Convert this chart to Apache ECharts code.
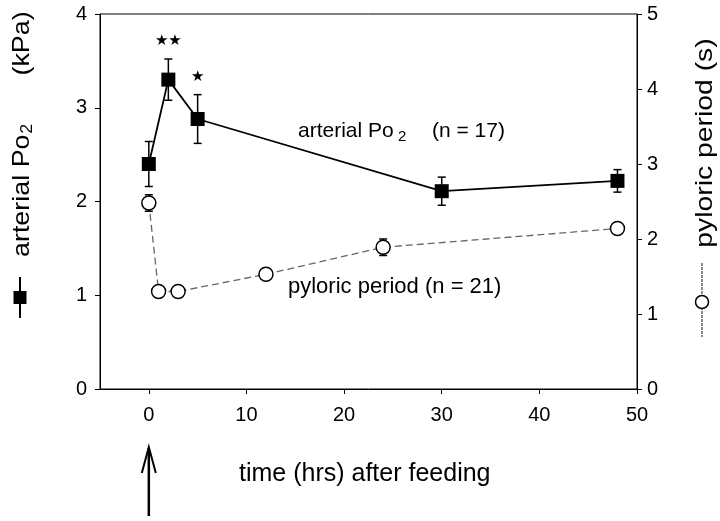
<!DOCTYPE html>
<html><head><meta charset="utf-8">
<script src="https://cdn.jsdelivr.net/npm/echarts@6/dist/echarts.min.js"></script>
<style>html,body{margin:0;padding:0;background:#fff}#c{width:720px;height:521px}</style>
</head><body><div id="c"></div>
<script>
const FONT = '"Liberation Sans", Arial, Helvetica, sans-serif';

// arterial PO2 (kPa), left axis
const po2Time = [0, 2, 5, 30, 48];
const po2Mean = [2.40, 3.30, 2.88, 2.11, 2.22];
const po2Err  = [0.24, 0.22, 0.26, 0.15, 0.12];
const po2Stars = ['', '★★', '★', '', ''];

// pyloric period (s), right axis
const pyloricTime = [0, 1, 3, 12, 24, 48];
const pyloricMean = [2.48, 1.30, 1.30, 1.53, 1.89, 2.14];
const pyloricErr  = [0.11, 0, 0, 0, 0.11, 0];

// axis ticks
const xTicks = [0, 10, 20, 30, 40, 50];
const leftTicks = [0, 1, 2, 3, 4];
const rightTicks = [0, 1, 2, 3, 4, 5];

const chart = echarts.init(document.getElementById('c'), null, {renderer: 'canvas'});

function errRender(stars, capHalf) {
  return function (params, api) {
    const x = api.value(0), y = api.value(1), e = api.value(2);
    const idx = params.dataIndex;
    const children = [];
    const top = api.coord([x, y + e]);
    const bot = api.coord([x, y - e]);
    const st = {stroke: '#000', lineWidth: 1.5};
    if (e > 0) {
      children.push({type: 'line', shape: {x1: top[0], y1: top[1], x2: bot[0], y2: bot[1]}, style: st});
      children.push({type: 'line', shape: {x1: top[0] - capHalf, y1: top[1], x2: top[0] + capHalf, y2: top[1]}, style: st});
      children.push({type: 'line', shape: {x1: bot[0] - capHalf, y1: bot[1], x2: bot[0] + capHalf, y2: bot[1]}, style: st});
    }
    if (stars && stars[idx]) {
      children.push({type: 'text', x: top[0], y: top[1] - 18,
        style: {text: stars[idx], fill: '#000', font: '15px "DejaVu Sans", sans-serif', align: 'center', verticalAlign: 'middle'}});
    }
    return {type: 'group', children};
  };
}

const axisLabelStyle = {color: '#000', fontSize: 20, fontFamily: FONT};

const option = {
  animation: false,
  backgroundColor: '#fff',
  grid: {left: 100, right: 83, top: 14, bottom: 132, show: true, borderColor: '#000', borderWidth: 1, backgroundColor: 'transparent'},
  xAxis: {
    type: 'value', min: -5, max: 50,
    axisLine: {show: true, onZero: false, lineStyle: {color: '#000', width: 1}},
    axisTick: {show: true, inside: false, length: 5, customValues: xTicks, lineStyle: {color: '#000'}},
    axisLabel: Object.assign({margin: 16, customValues: xTicks}, axisLabelStyle),
    splitLine: {show: false}
  },
  yAxis: [{
    type: 'value', min: 0, max: 4, interval: 1, position: 'left',
    axisLine: {show: true, onZero: false, lineStyle: {color: '#000', width: 1}},
    axisTick: {show: true, inside: false, length: 5, lineStyle: {color: '#000'}},
    axisLabel: Object.assign({margin: 13, formatter: v => leftTicks.includes(v) ? String(v) : ''}, axisLabelStyle),
    splitLine: {show: false}
  }, {
    type: 'value', min: 0, max: 5, interval: 1, position: 'right',
    axisLine: {show: true, onZero: false, lineStyle: {color: '#000', width: 1}},
    axisTick: {show: true, inside: false, length: 5, lineStyle: {color: '#000'}},
    axisLabel: Object.assign({margin: 10, formatter: v => rightTicks.includes(v) ? String(v) : ''}, axisLabelStyle),
    splitLine: {show: false}
  }],
  series: [
    {
      type: 'custom', name: 'po2err', yAxisIndex: 0, z: 2,
      renderItem: errRender(po2Stars, 4),
      data: po2Time.map((t, i) => [t, po2Mean[i], po2Err[i]])
    },
    {
      type: 'custom', name: 'pylerr', yAxisIndex: 1, z: 2,
      renderItem: errRender(null, 4),
      data: pyloricTime.map((t, i) => [t, pyloricMean[i], pyloricErr[i]])
    },
    {
      type: 'line', name: 'pyloric period', yAxisIndex: 1, z: 3,
      data: pyloricTime.map((t, i) => [t, pyloricMean[i]]),
      symbol: 'circle', symbolSize: 14,
      itemStyle: {color: '#fff', borderColor: '#000', borderWidth: 1.5},
      lineStyle: {color: '#666', width: 1.3, type: [7, 4]}
    },
    {
      type: 'line', name: 'arterial Po2', yAxisIndex: 0, z: 4,
      data: po2Time.map((t, i) => [t, po2Mean[i]]),
      symbol: 'rect', symbolSize: 14,
      itemStyle: {color: '#000'},
      lineStyle: {color: '#000', width: 1.8}
    }
  ]
};
chart.setOption(option);

const x0 = chart.convertToPixel({xAxisIndex: 0}, 0);
const tStyle = (txt, size, extra) => Object.assign({text: txt, fill: '#000', fontSize: size, fontFamily: FONT, verticalAlign: 'middle'}, extra || {});

chart.setOption({
  graphic: [
    // in-plot labels
    {type: 'text', x: 298, y: 131.5, style: tStyle('arterial Po', 21)},
    {type: 'text', x: 398, y: 137, style: tStyle('2', 15)},
    {type: 'text', x: 432, y: 131.5, style: tStyle('(n = 17)', 21)},
    {type: 'text', x: 288, y: 286.5, style: tStyle('pyloric period (n = 21)', 22)},
    // x axis title
    {type: 'text', x: 239, y: 474, style: tStyle('time (hrs) after feeding', 25)},
    // left y title (rotated)
    {type: 'group', x: 22, y: 257, rotation: Math.PI / 2, scaleX: 1.12, children: [
      {type: 'text', x: 0, y: 0, style: tStyle('arterial Po', 24)},
      {type: 'text', x: 110, y: 6, style: tStyle('2', 16)},
      {type: 'text', x: 162, y: 0, style: tStyle('(kPa)', 24)}
    ]},
    // right y title (rotated)
    {type: 'text', x: 705, y: 143, rotation: Math.PI / 2, scaleX: 1.18,
      style: tStyle('pyloric period (s)', 24, {align: 'center'})},
    // left legend glyph
    {type: 'line', shape: {x1: 20, y1: 277, x2: 20, y2: 318}, style: {stroke: '#000', lineWidth: 2}},
    {type: 'rect', shape: {x: 13.5, y: 291, width: 13, height: 13}, style: {fill: '#000'}},
    // right legend glyph
    {type: 'line', shape: {x1: 702, y1: 263, x2: 702, y2: 337}, style: {stroke: '#666', lineWidth: 1.5, lineDash: [3, 1]}},
    {type: 'circle', shape: {cx: 702, cy: 302, r: 6.5}, style: {fill: '#fff', stroke: '#000', lineWidth: 1.5}},
    // feeding arrow at t = 0
    {type: 'line', shape: {x1: x0, y1: 516, x2: x0, y2: 448}, style: {stroke: '#000', lineWidth: 2.5}},
    {type: 'polyline', shape: {points: [[x0 - 7, 473], [x0, 447], [x0 + 7, 473]]}, style: {stroke: '#000', lineWidth: 2, fill: null}}
  ]
});
</script>
</body></html>
